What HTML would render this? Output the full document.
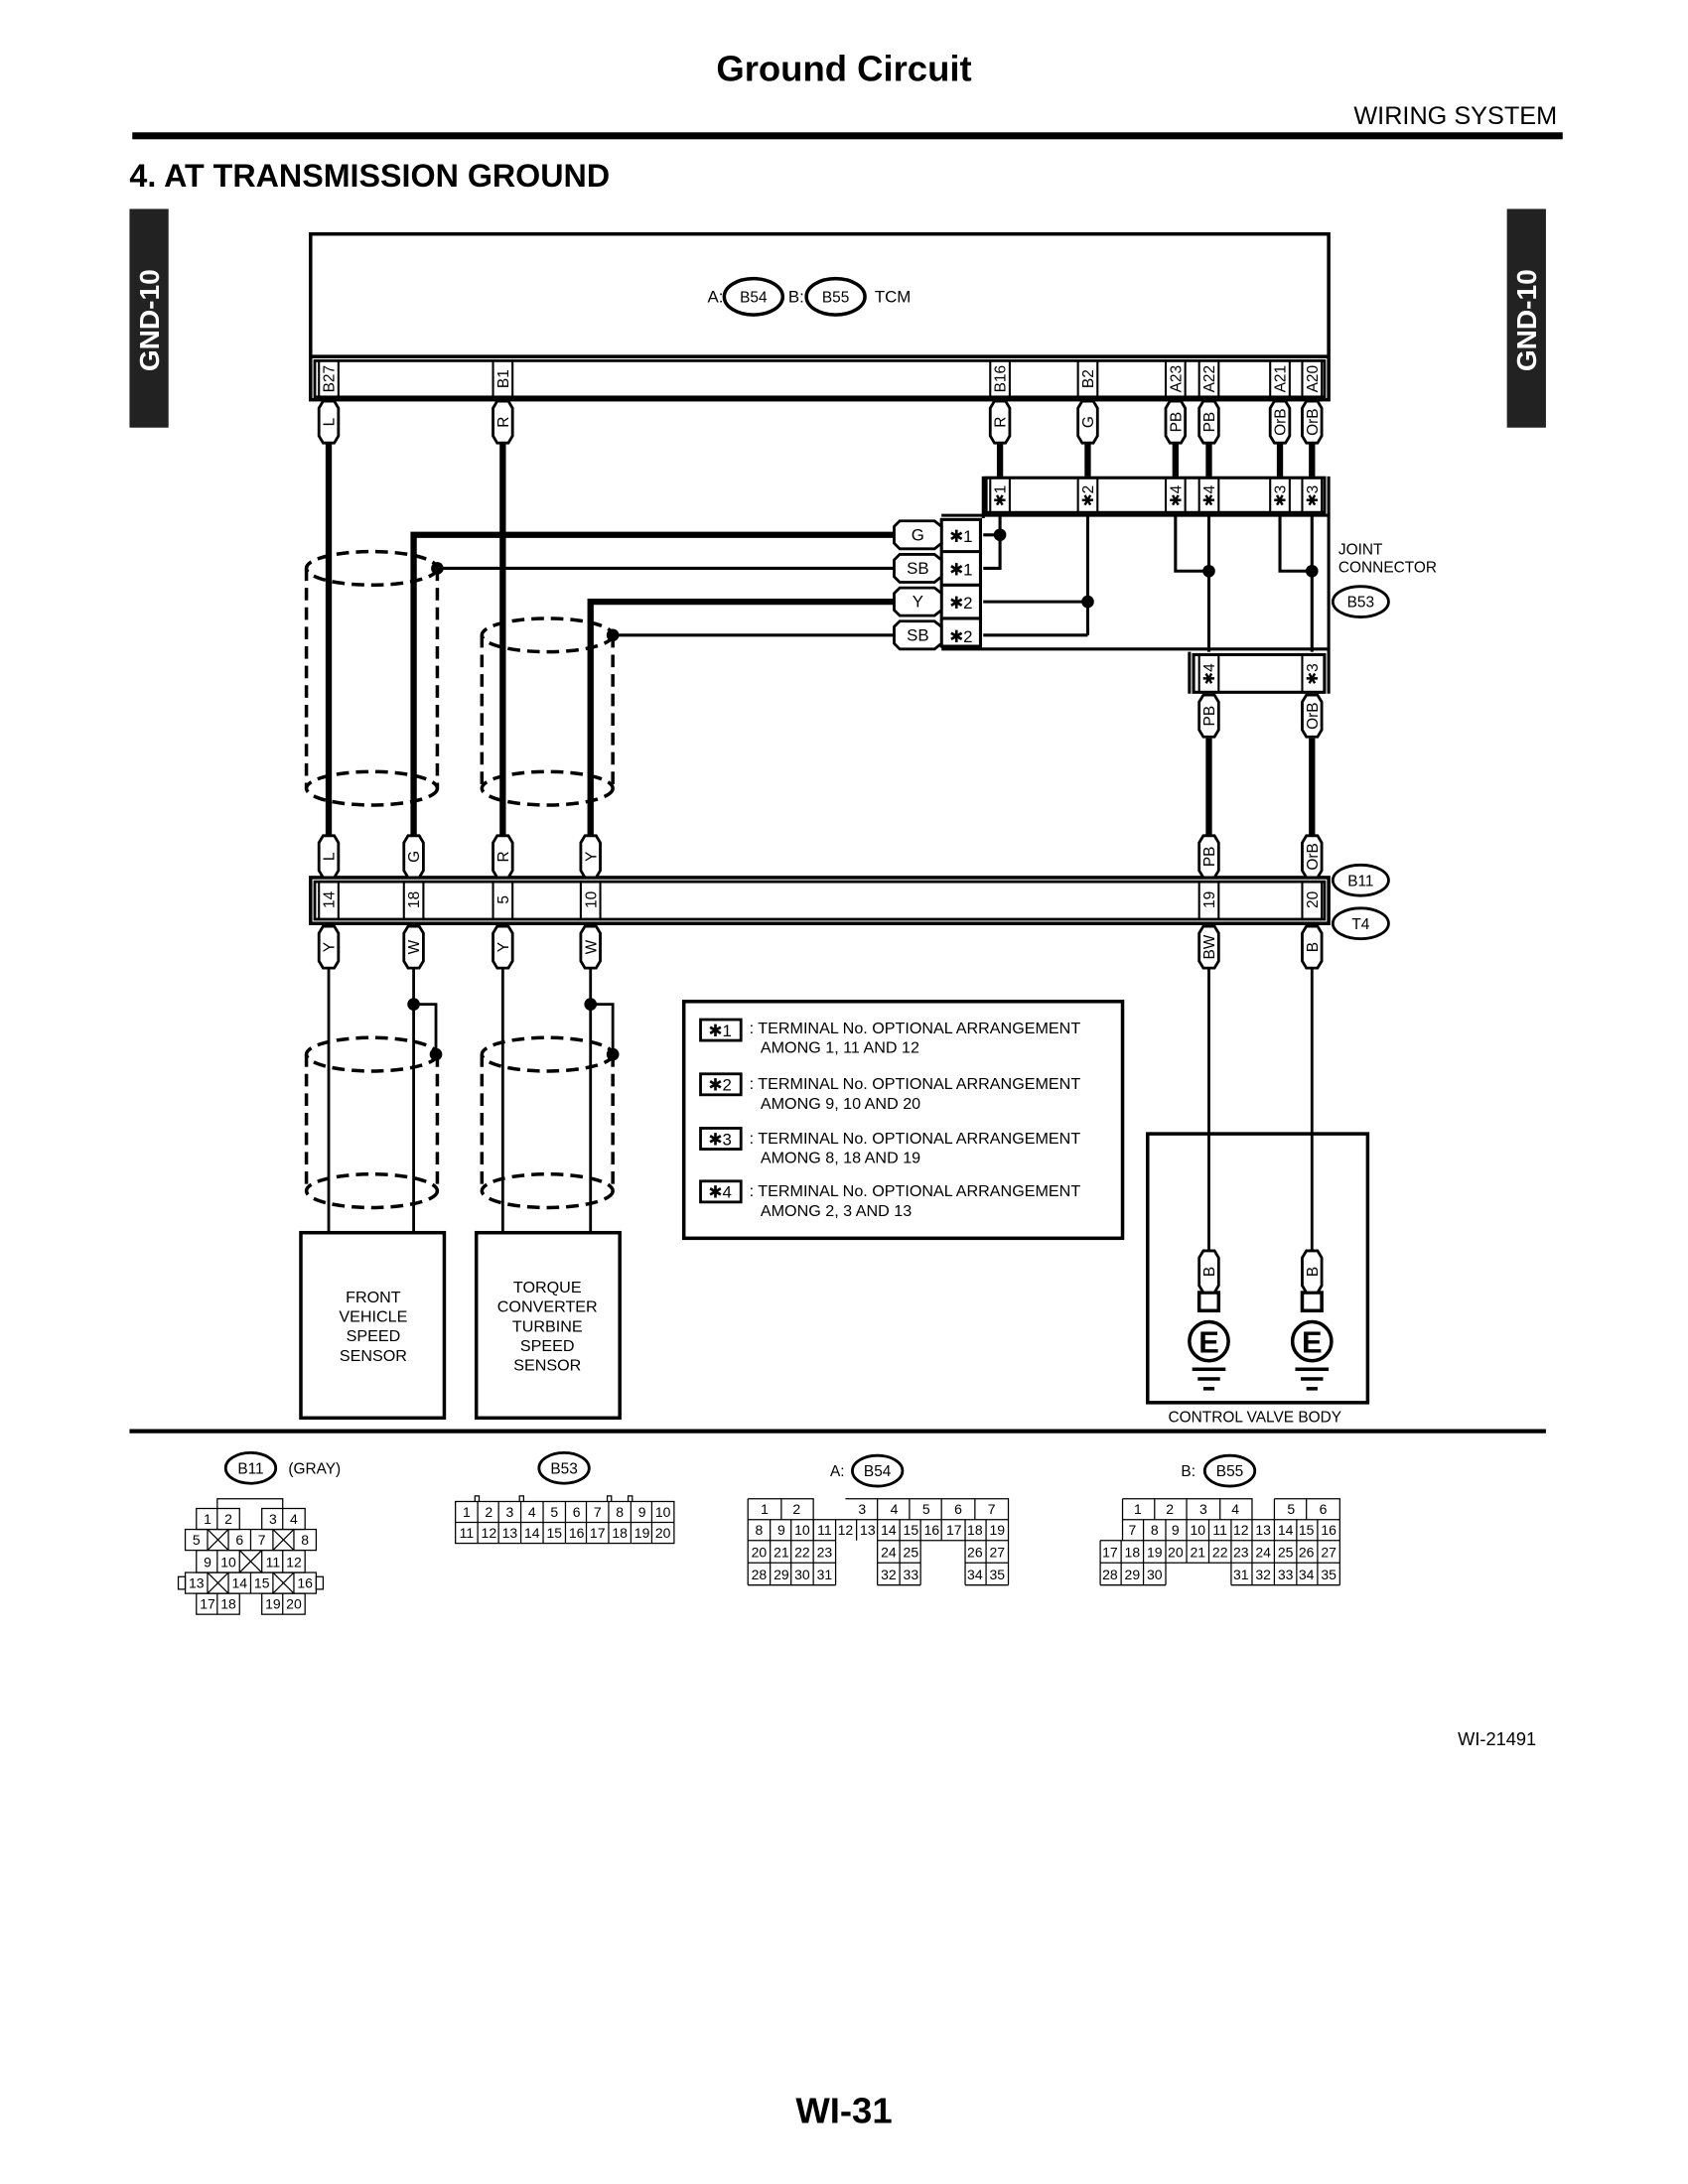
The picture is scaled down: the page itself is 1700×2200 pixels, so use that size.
<!DOCTYPE html>
<html><head><meta charset="utf-8">
<style>
html,body{margin:0;padding:0;background:#fff;}
svg{display:block;}
text{font-family:"Liberation Sans",sans-serif;fill:#000;}
</style></head>
<body>
<svg width="1700" height="2200" viewBox="0 0 1212 1568" preserveAspectRatio="none" xmlns="http://www.w3.org/2000/svg">
<defs>
<polygon id="cap" points="-7,5 -4,0 4,0 7,5 7,25 4,30 -4,30 -7,25" fill="#fff" stroke="#000" stroke-width="2"/>
<polygon id="hcap" points="0,-10 25,-10 30,-6 30,6 25,10 0,10 -4,6 -4,-6" fill="#fff" stroke="#000" stroke-width="2"/>
</defs>
<rect width="1224" height="1584" fill="#fff"/>
<!-- header -->
<text x="606" y="58" font-size="26" font-weight="bold" text-anchor="middle">Ground Circuit</text>
<text x="1118" y="89" font-size="18" text-anchor="end">WIRING SYSTEM</text>
<rect x="95" y="95" width="1027" height="5" fill="#000"/>
<text x="93" y="134" font-size="23" font-weight="bold">4.  AT TRANSMISSION GROUND</text>
<rect x="93" y="150" width="28" height="157" fill="#222"/>
<text transform="translate(114,230) rotate(-90)" font-size="20" font-weight="bold" text-anchor="middle" style="fill:#fff">GND-10</text>
<rect x="1082" y="150" width="28" height="157" fill="#222"/>
<text transform="translate(1103,230) rotate(-90)" font-size="20" font-weight="bold" text-anchor="middle" style="fill:#fff">GND-10</text>

<g fill="none" stroke="#000">
<!-- TCM -->
<rect x="223" y="168" width="731" height="119" stroke-width="2.5"/>
<line x1="223" y1="256" x2="954" y2="256" stroke-width="2.5"/>
<rect x="226" y="259" width="725" height="26" stroke-width="2"/>
<g stroke-width="1.5">
<line x1="229" y1="259" x2="229" y2="285"/><line x1="243" y1="259" x2="243" y2="285"/>
<line x1="354" y1="259" x2="354" y2="285"/><line x1="368" y1="259" x2="368" y2="285"/>
<line x1="711" y1="259" x2="711" y2="285"/><line x1="725" y1="259" x2="725" y2="285"/>
<line x1="774" y1="259" x2="774" y2="285"/><line x1="788" y1="259" x2="788" y2="285"/>
<line x1="837" y1="259" x2="837" y2="285"/><line x1="851" y1="259" x2="851" y2="285"/>
<line x1="861" y1="259" x2="861" y2="285"/><line x1="875" y1="259" x2="875" y2="285"/>
<line x1="912" y1="259" x2="912" y2="285"/><line x1="926" y1="259" x2="926" y2="285"/>
<line x1="935" y1="259" x2="935" y2="285"/><line x1="949" y1="259" x2="949" y2="285"/>
</g>
<ellipse cx="541" cy="213" rx="21" ry="13" stroke-width="2.5"/>
<ellipse cx="600" cy="213" rx="21" ry="13" stroke-width="2.5"/>

<g stroke-width="4.5">
<line x1="236" y1="318" x2="236" y2="600"/>
<line x1="361" y1="318" x2="361" y2="600"/>
<line x1="718" y1="318" x2="718" y2="342"/>
<line x1="781" y1="318" x2="781" y2="342"/>
<line x1="844" y1="318" x2="844" y2="342"/>
<line x1="868" y1="318" x2="868" y2="342"/>
<line x1="919" y1="318" x2="919" y2="342"/>
<line x1="942" y1="318" x2="942" y2="342"/>
<polyline points="645,384 297,384 297,600"/>
<polyline points="645,432 424,432 424,600"/>
<line x1="868" y1="530" x2="868" y2="600"/>
<line x1="942" y1="530" x2="942" y2="600"/>
</g>
<g stroke-width="2.2">
<line x1="313" y1="408" x2="645" y2="408"/>
<line x1="440" y1="456" x2="645" y2="456"/>
<rect x="708" y="343" width="243" height="25"/>
<line x1="706" y1="342" x2="706" y2="372"/>
<line x1="706" y1="370" x2="954" y2="370"/>
<line x1="954" y1="342" x2="954" y2="498"/>
<line x1="676" y1="466" x2="954" y2="466"/>
<line x1="676" y1="370" x2="706" y2="370"/>
<rect x="676" y="373" width="28" height="91"/>
<line x1="676" y1="396" x2="704" y2="396"/><line x1="676" y1="420" x2="704" y2="420"/><line x1="676" y1="444" x2="704" y2="444"/>
<polyline points="718,370 718,408 706,408"/>
<line x1="706" y1="384" x2="718" y2="384"/>
<line x1="781" y1="370" x2="781" y2="456"/>
<line x1="706" y1="432" x2="781" y2="432"/>
<line x1="706" y1="456" x2="781" y2="456"/>
<polyline points="844,370 844,410 868,410"/>
<line x1="868" y1="370" x2="868" y2="468"/>
<polyline points="919,370 919,410 942,410"/>
<line x1="942" y1="370" x2="942" y2="468"/>
<rect x="857" y="470" width="94" height="27"/>
<line x1="854" y1="468" x2="854" y2="498"/>
</g>
<g stroke-width="1.5">
<line x1="711" y1="343" x2="711" y2="368"/><line x1="725" y1="343" x2="725" y2="368"/>
<line x1="774" y1="343" x2="774" y2="368"/><line x1="788" y1="343" x2="788" y2="368"/>
<line x1="837" y1="343" x2="837" y2="368"/><line x1="851" y1="343" x2="851" y2="368"/>
<line x1="861" y1="343" x2="861" y2="368"/><line x1="875" y1="343" x2="875" y2="368"/>
<line x1="912" y1="343" x2="912" y2="368"/><line x1="926" y1="343" x2="926" y2="368"/>
<line x1="935" y1="343" x2="935" y2="368"/><line x1="949" y1="343" x2="949" y2="368"/>
<line x1="861" y1="470" x2="861" y2="497"/><line x1="875" y1="470" x2="875" y2="497"/>
<line x1="935" y1="470" x2="935" y2="497"/>
</g>
<ellipse cx="977" cy="432" rx="20" ry="11" stroke-width="2"/>

<g stroke-width="2.5" stroke-dasharray="9,5">
<ellipse cx="267" cy="408" rx="47" ry="12"/>
<ellipse cx="267" cy="566" rx="47" ry="12"/>
<line x1="220" y1="408" x2="220" y2="566"/><line x1="314" y1="408" x2="314" y2="566"/>
<ellipse cx="393" cy="456" rx="47" ry="12"/>
<ellipse cx="393" cy="566" rx="47" ry="12"/>
<line x1="346" y1="456" x2="346" y2="566"/><line x1="440" y1="456" x2="440" y2="566"/>
</g>

<rect x="223" y="630" width="731" height="33" stroke-width="2.5"/>
<rect x="226" y="633" width="725" height="27" stroke-width="2"/>
<g stroke-width="1.5">
<line x1="229" y1="633" x2="229" y2="660"/><line x1="243" y1="633" x2="243" y2="660"/>
<line x1="290" y1="633" x2="290" y2="660"/><line x1="304" y1="633" x2="304" y2="660"/>
<line x1="354" y1="633" x2="354" y2="660"/><line x1="368" y1="633" x2="368" y2="660"/>
<line x1="417" y1="633" x2="417" y2="660"/><line x1="431" y1="633" x2="431" y2="660"/>
<line x1="861" y1="633" x2="861" y2="660"/><line x1="875" y1="633" x2="875" y2="660"/>
<line x1="935" y1="633" x2="935" y2="660"/><line x1="949" y1="633" x2="949" y2="660"/>
</g>
<ellipse cx="977" cy="632" rx="20" ry="11" stroke-width="2"/>
<ellipse cx="977" cy="663" rx="20" ry="11" stroke-width="2"/>

<g stroke-width="2">
<line x1="236" y1="695" x2="236" y2="885"/>
<line x1="297" y1="695" x2="297" y2="885"/>
<line x1="361" y1="695" x2="361" y2="885"/>
<line x1="424" y1="695" x2="424" y2="885"/>
<polyline points="297,721 313,721 313,757"/>
<polyline points="424,721 440,721 440,757"/>
<line x1="868" y1="695" x2="868" y2="898"/>
<line x1="942" y1="695" x2="942" y2="898"/>
</g>
<g stroke-width="2.5" stroke-dasharray="9,5">
<ellipse cx="267" cy="757" rx="47" ry="12"/>
<ellipse cx="267" cy="855" rx="47" ry="12"/>
<line x1="220" y1="757" x2="220" y2="855"/><line x1="314" y1="757" x2="314" y2="855"/>
<ellipse cx="393" cy="757" rx="47" ry="12"/>
<ellipse cx="393" cy="855" rx="47" ry="12"/>
<line x1="346" y1="757" x2="346" y2="855"/><line x1="440" y1="757" x2="440" y2="855"/>
</g>
<rect x="216" y="885" width="103" height="133" stroke-width="2.5"/>
<rect x="342" y="885" width="103" height="133" stroke-width="2.5"/>
<rect x="491" y="719" width="315" height="170" stroke-width="2.5"/>
<g stroke-width="2">
<rect x="503" y="732" width="29" height="15"/>
<rect x="503" y="771" width="29" height="15"/>
<rect x="503" y="810" width="29" height="15"/>
<rect x="503" y="848" width="29" height="15"/>
</g>
<rect x="824" y="814" width="158" height="193" stroke-width="2.5"/>
<g stroke-width="2.5">
<rect x="861" y="928" width="14" height="13"/><rect x="935" y="928" width="14" height="13"/>
<circle cx="868" cy="963" r="14"/><circle cx="942" cy="963" r="14"/>
<line x1="856" y1="983" x2="880" y2="983"/><line x1="860" y1="990" x2="876" y2="990"/><line x1="864" y1="997" x2="872" y2="997"/>
<line x1="930" y1="983" x2="954" y2="983"/><line x1="934" y1="990" x2="950" y2="990"/><line x1="938" y1="997" x2="946" y2="997"/>
</g>
</g>

<g fill="#000">
<circle cx="314" cy="408" r="4.5"/><circle cx="440" cy="456" r="4.5"/>
<circle cx="718" cy="384" r="4.5"/><circle cx="781" cy="432" r="4.5"/>
<circle cx="868" cy="410" r="4.5"/><circle cx="942" cy="410" r="4.5"/>
<circle cx="297" cy="721" r="4.5"/><circle cx="313" cy="757" r="4.5"/>
<circle cx="424" cy="721" r="4.5"/><circle cx="440" cy="757" r="4.5"/>
</g>

<use href="#cap" x="236" y="288"/><use href="#cap" x="361" y="288"/><use href="#cap" x="718" y="288"/><use href="#cap" x="781" y="288"/>
<use href="#cap" x="844" y="288"/><use href="#cap" x="868" y="288"/><use href="#cap" x="919" y="288"/><use href="#cap" x="942" y="288"/>
<use href="#cap" x="868" y="499"/><use href="#cap" x="942" y="499"/>
<use href="#cap" x="236" y="600"/><use href="#cap" x="297" y="600"/><use href="#cap" x="361" y="600"/><use href="#cap" x="424" y="600"/>
<use href="#cap" x="868" y="600"/><use href="#cap" x="942" y="600"/>
<use href="#cap" x="236" y="665"/><use href="#cap" x="297" y="665"/><use href="#cap" x="361" y="665"/><use href="#cap" x="424" y="665"/>
<use href="#cap" x="868" y="665"/><use href="#cap" x="942" y="665"/>
<use href="#cap" x="868" y="898"/><use href="#cap" x="942" y="898"/>
<use href="#hcap" x="646" y="384"/><use href="#hcap" x="646" y="408"/><use href="#hcap" x="646" y="432"/><use href="#hcap" x="646" y="456"/>

<g font-size="11" text-anchor="middle">
<text transform="translate(240,272) rotate(-90)">B27</text>
<text transform="translate(365,272) rotate(-90)">B1</text>
<text transform="translate(722,272) rotate(-90)">B16</text>
<text transform="translate(785,272) rotate(-90)">B2</text>
<text transform="translate(848,272) rotate(-90)">A23</text>
<text transform="translate(872,272) rotate(-90)">A22</text>
<text transform="translate(923,272) rotate(-90)">A21</text>
<text transform="translate(946,272) rotate(-90)">A20</text>
<text transform="translate(240,303) rotate(-90)">L</text>
<text transform="translate(365,303) rotate(-90)">R</text>
<text transform="translate(722,303) rotate(-90)">R</text>
<text transform="translate(785,303) rotate(-90)">G</text>
<text transform="translate(848,303) rotate(-90)">PB</text>
<text transform="translate(872,303) rotate(-90)">PB</text>
<text transform="translate(923,303) rotate(-90)">OrB</text>
<text transform="translate(946,303) rotate(-90)">OrB</text>
<text transform="translate(722,356) rotate(-90)">✱1</text>
<text transform="translate(785,356) rotate(-90)">✱2</text>
<text transform="translate(848,356) rotate(-90)">✱4</text>
<text transform="translate(872,356) rotate(-90)">✱4</text>
<text transform="translate(923,356) rotate(-90)">✱3</text>
<text transform="translate(946,356) rotate(-90)">✱3</text>
<text transform="translate(872,484) rotate(-90)">✱4</text>
<text transform="translate(946,484) rotate(-90)">✱3</text>
<text transform="translate(872,514) rotate(-90)">PB</text>
<text transform="translate(946,514) rotate(-90)">OrB</text>
<text transform="translate(240,615) rotate(-90)">L</text>
<text transform="translate(301,615) rotate(-90)">G</text>
<text transform="translate(365,615) rotate(-90)">R</text>
<text transform="translate(428,615) rotate(-90)">Y</text>
<text transform="translate(872,615) rotate(-90)">PB</text>
<text transform="translate(946,615) rotate(-90)">OrB</text>
<text transform="translate(240,646) rotate(-90)">14</text>
<text transform="translate(301,646) rotate(-90)">18</text>
<text transform="translate(365,646) rotate(-90)">5</text>
<text transform="translate(428,646) rotate(-90)">10</text>
<text transform="translate(872,646) rotate(-90)">19</text>
<text transform="translate(946,646) rotate(-90)">20</text>
<text transform="translate(240,680) rotate(-90)">Y</text>
<text transform="translate(301,680) rotate(-90)">W</text>
<text transform="translate(365,680) rotate(-90)">Y</text>
<text transform="translate(428,680) rotate(-90)">W</text>
<text transform="translate(872,680) rotate(-90)">BW</text>
<text transform="translate(946,680) rotate(-90)">B</text>
<text transform="translate(872,913) rotate(-90)">B</text>
<text transform="translate(946,913) rotate(-90)">B</text>
</g>
<g font-size="12" text-anchor="middle">
<text x="659" y="388">G</text><text x="659" y="412">SB</text><text x="659" y="436">Y</text><text x="659" y="460">SB</text>
<text x="690" y="389">✱1</text><text x="690" y="413">✱1</text><text x="690" y="437">✱2</text><text x="690" y="461">✱2</text>
<text x="541" y="217" font-size="11">B54</text><text x="600" y="217" font-size="11">B55</text>
<text x="977" y="436" font-size="11">B53</text>
<text x="977" y="636" font-size="11">B11</text><text x="977" y="667" font-size="11">T4</text>
</g>
<text x="508" y="217" font-size="12">A:</text>
<text x="566" y="217" font-size="12">B:</text>
<text x="628" y="217" font-size="12">TCM</text>
<text x="961" y="398" font-size="11">JOINT</text>
<text x="961" y="411" font-size="11">CONNECTOR</text>

<g font-size="11.5" text-anchor="middle">
<text x="268" y="935">FRONT</text><text x="268" y="949">VEHICLE</text><text x="268" y="963">SPEED</text><text x="268" y="977">SENSOR</text>
<text x="393" y="928">TORQUE</text><text x="393" y="942">CONVERTER</text><text x="393" y="956">TURBINE</text><text x="393" y="970">SPEED</text><text x="393" y="984">SENSOR</text>
<text x="901" y="1021" font-size="11">CONTROL VALVE BODY</text>
</g>
<g font-size="12" text-anchor="middle"><text x="517" y="744">✱1</text><text x="517" y="783">✱2</text><text x="517" y="822">✱3</text><text x="517" y="860">✱4</text></g>
<g font-size="11.5">
<text x="538" y="742">: TERMINAL No. OPTIONAL ARRANGEMENT</text><text x="546" y="756">AMONG 1, 11 AND 12</text>
<text x="538" y="782">: TERMINAL No. OPTIONAL ARRANGEMENT</text><text x="546" y="796">AMONG 9, 10 AND 20</text>
<text x="538" y="821">: TERMINAL No. OPTIONAL ARRANGEMENT</text><text x="546" y="835">AMONG 8, 18 AND 19</text>
<text x="538" y="859">: TERMINAL No. OPTIONAL ARRANGEMENT</text><text x="546" y="873">AMONG 2, 3 AND 13</text>
</g>
<g font-size="22" font-weight="bold" text-anchor="middle"><text x="868" y="971">E</text><text x="942" y="971">E</text></g>

<rect x="93" y="1026" width="1017" height="3" fill="#000"/>

<g fill="none" stroke="#000" stroke-width="2">
<ellipse cx="180" cy="1054" rx="18" ry="11"/>
<ellipse cx="405" cy="1054" rx="18" ry="11"/>
<ellipse cx="630" cy="1056" rx="18" ry="11"/>
<ellipse cx="883" cy="1056" rx="18" ry="11"/>
</g>
<g font-size="11" text-anchor="middle">
<text x="180" y="1058">B11</text><text x="405" y="1058">B53</text><text x="630" y="1060">B54</text><text x="883" y="1060">B55</text>
</g>
<text x="207" y="1058" font-size="11">(GRAY)</text>
<text x="596" y="1060" font-size="11">A:</text>
<text x="848" y="1060" font-size="11">B:</text>

<g fill="none" stroke="#000" stroke-width="0.9">
<rect x="327" y="1078" width="157" height="30"/>
<line x1="327" y1="1093" x2="484" y2="1093"/>
<path d="M343,1078V1108M358,1078V1108M374,1078V1108M390,1078V1108M406,1078V1108M421,1078V1108M437,1078V1108M453,1078V1108M468,1078V1108"/>
<path d="M341,1078v-4h3v4M373,1078v-4h3v4M436,1078v-4h3v4M451,1078v-4h3v4"/>
<path d="M537,1076H584V1091M607,1076H724V1138M537,1076V1138M537,1091H724M537,1106H600M630,1106H724M537,1122H600M630,1122H661M693,1122H724M537,1138H600M630,1138H661M693,1138H724"/>
<path d="M561,1076V1091M584,1091V1106M630,1076V1091M653,1076V1091M676,1076V1106M700,1076V1091"/>
<path d="M553,1091V1138M568,1091V1138M584,1091V1138M600,1091V1138M615,1091V1106M630,1091V1138M646,1091V1138M661,1091V1138M693,1091V1138M708,1091V1138"/>
<path d="M806,1076H899V1091M915,1076H962V1138M806,1076V1106M806,1091H962M790,1106H962M790,1106V1138M790,1122H962M790,1138H837M884,1138H962"/>
<path d="M829,1076V1091M852,1076V1091M876,1076V1091M938,1076V1091M915,1076V1091"/>
<path d="M821,1091V1122M837,1091V1138M852,1091V1122M868,1091V1122M884,1091V1138M899,1091V1138M915,1091V1138M931,1091V1138M946,1091V1138M805,1106V1138M821,1122V1138"/>
<path d="M156,1083v-7h47v7"/>
<rect x="141" y="1083" width="31" height="15"/><line x1="156" y1="1083" x2="156" y2="1098"/>
<rect x="188" y="1083" width="31" height="15"/><line x1="203" y1="1083" x2="203" y2="1098"/>
<rect x="133" y="1098" width="94" height="15"/>
<path d="M149,1098V1113M164,1098V1113M180,1098V1113M196,1098V1113M211,1098V1113M149,1098L164,1113M164,1098L149,1113M196,1098L211,1113M211,1098L196,1113"/>
<rect x="141" y="1113" width="78" height="16"/>
<path d="M156,1113V1129M172,1113V1129M188,1113V1129M203,1113V1129M172,1113L188,1129M188,1113L172,1129"/>
<rect x="133" y="1129" width="94" height="15"/>
<path d="M149,1129V1144M164,1129V1144M180,1129V1144M196,1129V1144M211,1129V1144M149,1129L164,1144M164,1129L149,1144M196,1129L211,1144M211,1129L196,1144"/>
<rect x="128" y="1132" width="5" height="9"/><rect x="227" y="1132" width="5" height="9"/>
<rect x="141" y="1144" width="31" height="15"/><line x1="156" y1="1144" x2="156" y2="1159"/>
<rect x="188" y="1144" width="31" height="15"/><line x1="203" y1="1144" x2="203" y2="1159"/>
</g>
<g font-size="10" text-anchor="middle">
<text x="335" y="1089">1</text><text x="351" y="1089">2</text><text x="366" y="1089">3</text><text x="382" y="1089">4</text><text x="398" y="1089">5</text><text x="414" y="1089">6</text><text x="429" y="1089">7</text><text x="445" y="1089">8</text><text x="461" y="1089">9</text><text x="476" y="1089">10</text>
<text x="335" y="1104">11</text><text x="351" y="1104">12</text><text x="366" y="1104">13</text><text x="382" y="1104">14</text><text x="398" y="1104">15</text><text x="414" y="1104">16</text><text x="429" y="1104">17</text><text x="445" y="1104">18</text><text x="461" y="1104">19</text><text x="476" y="1104">20</text>
<text x="549" y="1087">1</text><text x="572" y="1087">2</text><text x="619" y="1087">3</text><text x="642" y="1087">4</text><text x="665" y="1087">5</text><text x="688" y="1087">6</text><text x="712" y="1087">7</text>
<text x="545" y="1102">8</text><text x="561" y="1102">9</text><text x="576" y="1102">10</text><text x="592" y="1102">11</text><text x="607" y="1102">12</text><text x="623" y="1102">13</text><text x="638" y="1102">14</text><text x="654" y="1102">15</text><text x="669" y="1102">16</text><text x="685" y="1102">17</text><text x="700" y="1102">18</text><text x="716" y="1102">19</text>
<text x="545" y="1118">20</text><text x="561" y="1118">21</text><text x="576" y="1118">22</text><text x="592" y="1118">23</text><text x="638" y="1118">24</text><text x="654" y="1118">25</text><text x="700" y="1118">26</text><text x="716" y="1118">27</text>
<text x="545" y="1134">28</text><text x="561" y="1134">29</text><text x="576" y="1134">30</text><text x="592" y="1134">31</text><text x="638" y="1134">32</text><text x="654" y="1134">33</text><text x="700" y="1134">34</text><text x="716" y="1134">35</text>
<text x="817" y="1087">1</text><text x="840" y="1087">2</text><text x="864" y="1087">3</text><text x="887" y="1087">4</text><text x="927" y="1087">5</text><text x="950" y="1087">6</text>
<text x="813" y="1102">7</text><text x="829" y="1102">8</text><text x="844" y="1102">9</text><text x="860" y="1102">10</text><text x="876" y="1102">11</text><text x="891" y="1102">12</text><text x="907" y="1102">13</text><text x="923" y="1102">14</text><text x="938" y="1102">15</text><text x="954" y="1102">16</text>
<text x="797" y="1118">17</text><text x="813" y="1118">18</text><text x="829" y="1118">19</text><text x="844" y="1118">20</text><text x="860" y="1118">21</text><text x="876" y="1118">22</text><text x="891" y="1118">23</text><text x="907" y="1118">24</text><text x="923" y="1118">25</text><text x="938" y="1118">26</text><text x="954" y="1118">27</text>
<text x="797" y="1134">28</text><text x="813" y="1134">29</text><text x="829" y="1134">30</text><text x="891" y="1134">31</text><text x="907" y="1134">32</text><text x="923" y="1134">33</text><text x="938" y="1134">34</text><text x="954" y="1134">35</text>
<text x="149" y="1094">1</text><text x="164" y="1094">2</text><text x="196" y="1094">3</text><text x="211" y="1094">4</text>
<text x="141" y="1109">5</text><text x="172" y="1109">6</text><text x="188" y="1109">7</text><text x="219" y="1109">8</text>
<text x="149" y="1125">9</text><text x="164" y="1125">10</text><text x="196" y="1125">11</text><text x="211" y="1125">12</text>
<text x="141" y="1140">13</text><text x="172" y="1140">14</text><text x="188" y="1140">15</text><text x="219" y="1140">16</text>
<text x="149" y="1155">17</text><text x="164" y="1155">18</text><text x="196" y="1155">19</text><text x="211" y="1155">20</text>
</g>

<text x="1103" y="1253" font-size="13" text-anchor="end">WI-21491</text>
<text x="606" y="1524" font-size="26" font-weight="bold" text-anchor="middle">WI-31</text>
</svg>
</body></html>
